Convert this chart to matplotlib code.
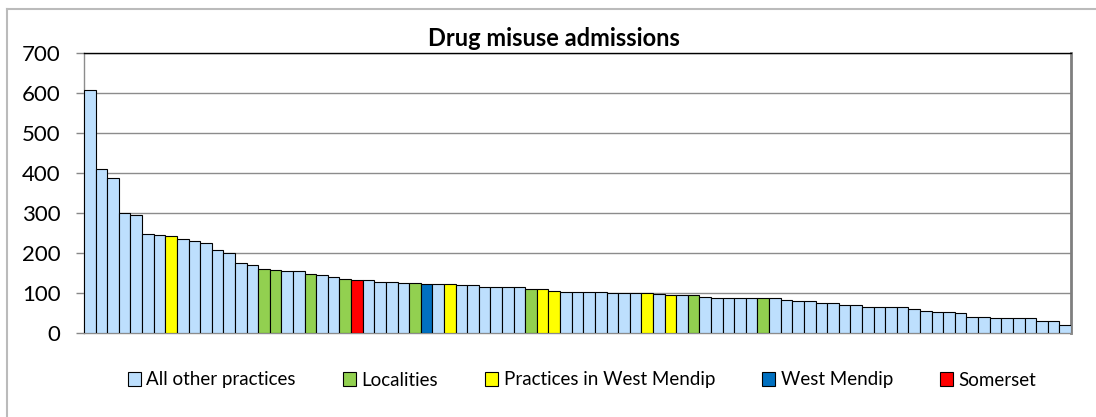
import matplotlib
matplotlib.use("Agg")
import matplotlib.pyplot as plt
from matplotlib.patches import Patch
from matplotlib.lines import Line2D

values = [607, 410, 387, 301, 295, 249, 245, 243, 235, 232,
          227, 209, 201, 175, 172, 160, 158, 156, 156, 148,
          147, 141, 137, 134, 134, 128, 128, 126, 126, 124,
          124, 123, 121, 120, 117, 117, 116, 115, 112, 111,
          106, 104, 104, 104, 103, 100, 100, 100, 100, 98,
          95, 95, 95, 92, 89, 89, 88, 88, 88, 88,
          84, 81, 80, 76, 75, 71, 71, 67, 67, 67,
          66, 62, 55, 54, 54, 51, 41, 41, 38, 38,
          38, 38, 32, 30, 22]

yellow_idx = [8, 32, 40, 41, 49, 51]
green_idx = [16, 17, 20, 23, 29, 39, 53, 59]
blue_idx = [30]
red_idx = [24]

series_names = ["All other practices", "Localities", "Practices in West Mendip",
                "West Mendip", "Somerset"]
series_colors = ["#BDDFFD", "#92D050", "#FFFF00", "#0070C0", "#FF0000"]
yticks = [0, 100, 200, 300, 400, 500, 600, 700]

cats = []
for i in range(1, len(values) + 1):
    if i in green_idx:
        cats.append(1)
    elif i in yellow_idx:
        cats.append(2)
    elif i in blue_idx:
        cats.append(3)
    elif i in red_idx:
        cats.append(4)
    else:
        cats.append(0)

plt.rcParams['font.family'] = ['Lato', 'DejaVu Sans']

fig = plt.figure(figsize=(10.96, 4.17), dpi=100)
W, H = 1096, 417
ax = fig.add_axes([84 / W, 1 - 333.3 / H, (1071 - 84) / W, (333.3 - 53.3) / H])

x = list(range(len(values)))
colors = [series_colors[c] for c in cats]
ax.bar(x, values, width=1.0, color=colors, edgecolor="black", linewidth=0.8, zorder=3)

ax.set_xlim(-0.5, len(values) - 0.5)
ax.set_ylim(0, 700)
ax.set_yticks(yticks)
ax.set_yticklabels([str(v) for v in yticks], fontsize=16)
ax.tick_params(axis='y', length=6, width=1, color="#888888", pad=11)
ax.set_xticks([])
ax.yaxis.grid(True, color="#8c8c8c", linewidth=1.0, zorder=0)
ax.set_axisbelow(True)

for s in ["left", "bottom"]:
    ax.spines[s].set_color("#8c8c8c")
    ax.spines[s].set_linewidth(1.0)
ax.spines["top"].set_color("black")
ax.spines["top"].set_linewidth(1.0)
ax.spines["right"].set_color("#7f7f7f")
ax.spines["right"].set_linewidth(2.0)

fig.text(554 / W, 1 - 38 / H, "Drug misuse admissions", ha="center", va="center",
         fontsize=17, fontweight="bold")

handles = [Patch(facecolor=c, edgecolor="black", linewidth=0.8) for c in series_colors]
fig.legend(handles, series_names, loc="center", bbox_to_anchor=(582 / W, 1 - 380 / H),
           ncol=5, frameon=False, fontsize=13.5, handlelength=0.7, handleheight=0.7,
           handletextpad=0.3, columnspacing=2.5)

# outer chart border (left and top visible)
fig.add_artist(Line2D([7 / W, 7 / W], [0, 1 - 9 / H], transform=fig.transFigure,
                      color="#bbbbbb", linewidth=1.5))
fig.add_artist(Line2D([7 / W, 1], [1 - 9 / H, 1 - 9 / H], transform=fig.transFigure,
                      color="#bbbbbb", linewidth=1.5))

fig.savefig("out.png", dpi=100)
